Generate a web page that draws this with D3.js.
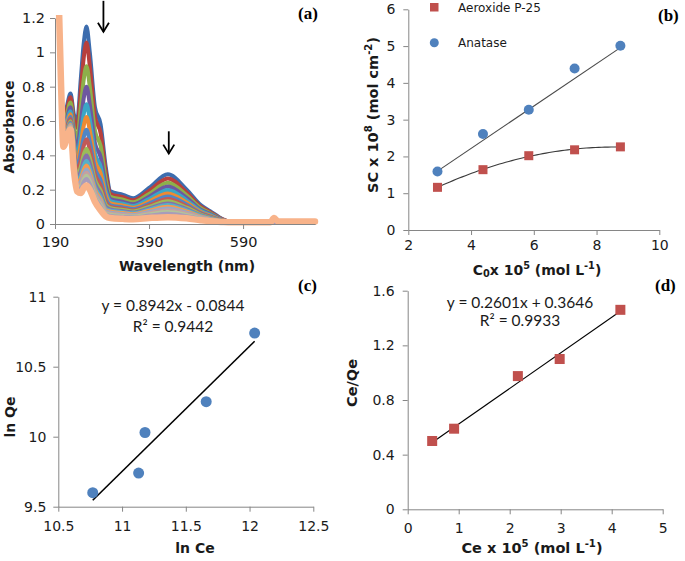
<!DOCTYPE html>
<html><head><meta charset="utf-8">
<script src="https://cdn.jsdelivr.net/npm/d3@7"></script>
<style>
body{margin:0;background:#fff;}
svg{display:block;}
</style></head><body>
<svg id="fig" width="685" height="561"></svg>
<script>
// ---------- Panel (a): UV-vis spectra ----------
const wavelengths = [190,198,203,208,215,223,230,237,245,251,257,264,275,287,298,308,335,356,390,430,470,500,520,545,565,648,656,664,743];
// one row per wavelength: 16 spectra + final spectrum (thick, light orange)
const absorbance = [
 [1.8,1.8,1.8,1.8,1.8,1.8,1.8,1.8,1.8,1.8,1.8,1.8,1.8,1.8,1.8,1.8,1.8],
 [1.3,1.3,1.3,1.3,1.3,1.3,1.3,1.3,1.3,1.3,1.3,1.3,1.3,1.3,1.3,1.3,1.3],
 [0.85,0.85,0.85,0.85,0.85,0.85,0.85,0.85,0.85,0.85,0.85,0.85,0.85,0.85,0.85,0.85,0.80],
 [0.60,0.585,0.563,0.543,0.527,0.515,0.503,0.494,0.485,0.479,0.473,0.469,0.465,0.462,0.459,0.456,0.45],
 [0.68,0.662,0.635,0.612,0.592,0.577,0.563,0.552,0.541,0.534,0.528,0.523,0.518,0.514,0.511,0.507,0.50],
 [0.76,0.739,0.708,0.680,0.657,0.640,0.624,0.611,0.598,0.590,0.583,0.576,0.571,0.567,0.563,0.558,0.55],
 [0.64,0.608,0.56,0.518,0.483,0.458,0.432,0.413,0.394,0.381,0.370,0.36,0.352,0.346,0.339,0.333,0.32],
 [0.60,0.559,0.498,0.444,0.399,0.366,0.334,0.309,0.284,0.268,0.254,0.241,0.231,0.223,0.215,0.206,0.19],
 [0.85,0.783,0.683,0.595,0.522,0.468,0.415,0.374,0.334,0.307,0.284,0.264,0.247,0.234,0.220,0.207,0.18],
 [1.05,0.966,0.84,0.731,0.638,0.571,0.504,0.454,0.403,0.37,0.34,0.315,0.294,0.277,0.26,0.244,0.21],
 [1.15,1.058,0.919,0.799,0.697,0.623,0.549,0.493,0.438,0.401,0.368,0.341,0.318,0.299,0.281,0.262,0.225],
 [1.0,0.92,0.80,0.696,0.608,0.544,0.48,0.432,0.384,0.352,0.324,0.30,0.28,0.264,0.248,0.232,0.20],
 [0.68,0.625,0.543,0.471,0.411,0.367,0.323,0.29,0.257,0.235,0.215,0.199,0.185,0.174,0.163,0.152,0.13],
 [0.58,0.53,0.455,0.39,0.335,0.295,0.255,0.225,0.195,0.175,0.158,0.143,0.13,0.12,0.11,0.10,0.08],
 [0.33,0.302,0.259,0.222,0.19,0.168,0.145,0.128,0.111,0.099,0.089,0.081,0.074,0.068,0.062,0.056,0.045],
 [0.19,0.175,0.159,0.145,0.133,0.12,0.109,0.1,0.092,0.085,0.078,0.072,0.066,0.06,0.054,0.047,0.035],
 [0.17,0.156,0.142,0.129,0.118,0.107,0.097,0.089,0.082,0.075,0.069,0.064,0.058,0.052,0.047,0.041,0.03],
 [0.15,0.138,0.126,0.115,0.105,0.095,0.087,0.079,0.073,0.067,0.062,0.057,0.052,0.048,0.043,0.038,0.028],
 [0.21,0.193,0.175,0.159,0.145,0.131,0.119,0.109,0.1,0.091,0.084,0.077,0.07,0.063,0.056,0.049,0.035],
 [0.29,0.265,0.24,0.218,0.198,0.178,0.16,0.145,0.133,0.12,0.11,0.10,0.09,0.08,0.07,0.06,0.04],
 [0.20,0.183,0.167,0.152,0.138,0.125,0.113,0.103,0.095,0.086,0.08,0.073,0.066,0.06,0.053,0.046,0.033],
 [0.11,0.101,0.092,0.084,0.077,0.070,0.064,0.059,0.055,0.05,0.047,0.043,0.04,0.036,0.033,0.029,0.022],
 [0.075,0.069,0.063,0.058,0.053,0.048,0.044,0.041,0.038,0.035,0.033,0.03,0.028,0.025,0.023,0.021,0.016],
 [0.03,0.028,0.026,0.025,0.023,0.022,0.021,0.02,0.019,0.018,0.017,0.016,0.016,0.015,0.014,0.013,0.012],
 [0.012,0.012,0.012,0.012,0.012,0.012,0.012,0.012,0.012,0.012,0.012,0.012,0.012,0.012,0.012,0.012,0.01],
 [0.01,0.01,0.01,0.01,0.01,0.01,0.01,0.01,0.01,0.01,0.01,0.01,0.01,0.01,0.01,0.01,0.01],
 [0.012,0.012,0.012,0.012,0.012,0.012,0.012,0.012,0.012,0.012,0.012,0.012,0.012,0.012,0.012,0.012,0.035],
 [0.01,0.01,0.01,0.01,0.01,0.01,0.01,0.01,0.01,0.01,0.01,0.01,0.01,0.01,0.01,0.01,0.016],
 [0.01,0.01,0.01,0.01,0.01,0.01,0.01,0.01,0.01,0.01,0.01,0.01,0.01,0.01,0.01,0.01,0.015]
];
const spectrumColors = ["#3D6DAE","#B8403D","#8DB04A","#6E58A0","#3AA6C6","#EE8A32",
  "#4F86C6","#C25A57","#9BBB59","#8670AA","#55B0C9","#F59A50",
  "#95A8C8","#C6A0A0","#B2C49A","#A89CBA","#F8B38A"];
const wlTicks = [190, 390, 590];
const absTicks = [0, 0.2, 0.4, 0.6, 0.8, 1, 1.2];
// arrows: [wavelength, top absorbance, bottom absorbance]
const arrowsA = [[293, 1.30, 1.12], [432, 0.54, 0.41]];

// ---------- Panel (b) ----------
const c0 = [2.93, 4.38, 5.84, 7.30, 8.76];
const scAeroxide = [1.16, 1.64, 2.02, 2.18, 2.26];
const scAnatase = [1.59, 2.61, 3.27, 4.39, 5.01];
const anataseTrend = [0.576, -0.088]; // slope, intercept
const bXTicks = [2, 4, 6, 8, 10];
const bYTicks = [0, 1, 2, 3, 4, 5, 6];
const bLegend = ["Aeroxide P-25", "Anatase"];

// ---------- Panel (c) ----------
const lnCe = [10.77, 11.13, 11.18, 11.66, 12.04];
const lnQe = [9.60, 9.74, 10.03, 10.25, 10.74];
const cTrend = [0.8942, -0.0844];
const cXTicks = [10.5, 11, 11.5, 12, 12.5];
const cYTicks = [9.5, 10, 10.5, 11];
const cEquation = ["y = 0.8942x - 0.0844", "R² = 0.9442"];

// ---------- Panel (d) ----------
const ceVals = [0.48, 0.91, 2.16, 2.98, 4.17];
const ceQe = [0.50, 0.59, 0.975, 1.10, 1.46];
const dTrend = [0.2601, 0.3646];
const dXTicks = [0, 1, 2, 3, 4, 5];
const dYTicks = [0, 0.4, 0.8, 1.2, 1.6];
const dEquation = ["y = 0.2601x + 0.3646", "R² = 0.9933"];

// ================= drawing =================
const svg = d3.select("#fig");
const AX = "#868686", TXT = "#1a1a1a";
const TICKFONT = "DejaVu Sans", BOLD = "DejaVu Sans";
const fmt = d => String(+d.toFixed(2));

function styleAxis(g, fs) {
  g.select(".domain").attr("stroke", AX).attr("stroke-width", 1);
  g.selectAll(".tick line").attr("stroke", AX);
  g.selectAll(".tick text").attr("fill", TXT).attr("font-family", TICKFONT).attr("font-size", fs);
}
function axes(x, y, xt, yt, fs, pad) {
  const gx = svg.append("g").attr("transform", `translate(0,${y.range()[0]})`)
    .call(d3.axisBottom(x).tickValues(xt).tickFormat(fmt).tickSize(5).tickSizeOuter(0).tickPadding(pad.x));
  styleAxis(gx, fs);
  const gy = svg.append("g").attr("transform", `translate(${x.range()[0]},0)`)
    .call(d3.axisLeft(y).tickValues(yt).tickFormat(fmt).tickSize(5).tickSizeOuter(0).tickPadding(pad.y));
  styleAxis(gy, fs);
  return [gx, gy];
}
function title(x, y, txtParts, rot, fs) {
  const t = svg.append("text").attr("font-family", BOLD).attr("font-weight", "bold")
    .attr("font-size", fs).attr("fill", TXT).attr("text-anchor", "middle")
    .attr("transform", `translate(${x},${y})` + (rot ? " rotate(-90)" : ""))
    .attr("dominant-baseline", "central");
  txtParts.forEach(p => {
    const s = t.append("tspan").text(p[0]);
    if (p[1] === "sup") s.attr("font-size", fs * 0.7).attr("dy", -5);
    if (p[1] === "sub") s.attr("font-size", fs * 0.7).attr("dy", 3);
    if (p[2]) s.attr("dy", p[2]);
  });
  return t;
}
function panelLabel(x, y, s) {
  svg.append("text").attr("x", x).attr("y", y).attr("font-family", "Liberation Serif")
    .attr("font-weight", "bold").attr("font-size", 17).attr("fill", "#000").text(s);
}

// ---- (a)
const xA = d3.scaleLinear().domain([190, 743]).range([55, 315]);
const yA = d3.scaleLinear().domain([0, 1.2]).range([224, 18]);
svg.append("clipPath").attr("id", "clipA").append("rect").attr("x", 54).attr("y", 15).attr("width", 265).attr("height", 220);
const gA = svg.append("g").attr("clip-path", "url(#clipA)");
const nSpec = spectrumColors.length;
const lineA = d3.line().x(d => xA(d[0])).y(d => yA(d[1])).curve(d3.curveMonotoneX);
for (let s = 0; s < nSpec; s++) {
  const pts = wavelengths.map((w, i) => [w, absorbance[i][s]]);
  gA.append("path").attr("d", lineA(pts)).attr("fill", "none")
    .attr("stroke", spectrumColors[s]).attr("stroke-width", s === nSpec - 1 ? 6.5 : 4)
    .attr("stroke-linejoin", "round").attr("stroke-linecap", "round");
}
axes(xA, yA, wlTicks, absTicks, 14.5, {x: 8, y: 5});
arrowsA.forEach(a => {
  const x = xA(a[0]), y1 = yA(a[1]), y2 = yA(a[2]);
  svg.append("line").attr("x1", x).attr("x2", x).attr("y1", y1).attr("y2", y2).attr("stroke", "#000").attr("stroke-width", 1.8);
  svg.append("path").attr("d", `M${x - 5.5},${y2 - 9} L${x},${y2} L${x + 5.5},${y2 - 9}`)
    .attr("fill", "none").attr("stroke", "#000").attr("stroke-width", 1.8);
});
title(9, 127, [["Absorbance"]], true, 14);
title(187, 266, [["Wavelength (nm)"]], false, 14);
panelLabel(298, 19, "(a)");

// ---- (b)
const xB = d3.scaleLinear().domain([2, 10]).range([408.3, 659.3]);
const yB = d3.scaleLinear().domain([0, 6]).range([230, 9.3]);
axes(xB, yB, bXTicks, bYTicks, 14, {x: 5, y: 8});
// quadratic least squares fit for Aeroxide
function quadFit(xs, ys) {
  let S = [0,0,0,0,0], T = [0,0,0];
  xs.forEach((x, i) => { for (let k = 0; k < 5; k++) S[k] += x ** k; for (let k = 0; k < 3; k++) T[k] += ys[i] * x ** k; });
  const M = [[S[0],S[1],S[2],T[0]],[S[1],S[2],S[3],T[1]],[S[2],S[3],S[4],T[2]]];
  for (let i = 0; i < 3; i++) { for (let j = i + 1; j < 3; j++) { const f = M[j][i] / M[i][i]; for (let k = i; k < 4; k++) M[j][k] -= f * M[i][k]; } }
  const c = [0,0,0];
  for (let i = 2; i >= 0; i--) { let s = M[i][3]; for (let k = i + 1; k < 3; k++) s -= M[i][k] * c[k]; c[i] = s / M[i][i]; }
  return x => c[0] + c[1] * x + c[2] * x * x;
}
const qf = quadFit(c0, scAeroxide);
const xsFit = d3.range(60).map(i => c0[0] + (c0[4] - c0[0]) * i / 59);
svg.append("path").attr("d", d3.line().x(d => xB(d)).y(d => yB(qf(d)))(xsFit))
  .attr("fill", "none").attr("stroke", "#3a3a3a").attr("stroke-width", 1.1);
svg.append("line").attr("x1", xB(c0[0])).attr("y1", yB(anataseTrend[0] * c0[0] + anataseTrend[1]))
  .attr("x2", xB(c0[4])).attr("y2", yB(anataseTrend[0] * c0[4] + anataseTrend[1]))
  .attr("stroke", "#4a4a4a").attr("stroke-width", 1.1);
svg.append("g").selectAll("rect").data(c0).join("rect")
  .attr("x", (d) => xB(d) - 4.5).attr("y", (d, i) => yB(scAeroxide[i]) - 4.5)
  .attr("width", 9).attr("height", 9).attr("fill", "#C0504D");
svg.append("g").selectAll("circle").data(c0).join("circle")
  .attr("cx", d => xB(d)).attr("cy", (d, i) => yB(scAnatase[i])).attr("r", 5).attr("fill", "#4F81BD");
// legend
svg.append("rect").attr("x", 430).attr("y", 3).attr("width", 8.5).attr("height", 8.5).attr("fill", "#C0504D");
svg.append("circle").attr("cx", 434.3).attr("cy", 42.7).attr("r", 4.5).attr("fill", "#4F81BD");
bLegend.forEach((t, i) => svg.append("text").attr("x", 458).attr("y", [7.5, 43][i]).attr("dominant-baseline", "central")
  .attr("font-family", TICKFONT).attr("font-size", 12).attr("fill", TXT).text(t));
title(373, 115, [["SC x 10"], ["8", "sup"], [" (mol cm", null, 5], ["-2", "sup"], [")", null, 5]], true, 14.5);
title(537, 270, [["C"], ["0", "sub"], ["x 10", null, -3], ["5", "sup"], [" (mol L", null, 5], ["-1", "sup"], [")", null, 5]], false, 14);
panelLabel(658, 21, "(b)");

// ---- (c)
const xC = d3.scaleLinear().domain([10.5, 12.5]).range([58.3, 313.3]);
const yC = d3.scaleLinear().domain([9.5, 11]).range([506.7, 296.7]);
axes(xC, yC, cXTicks, cYTicks, 14, {x: 9, y: 7});
svg.append("line").attr("x1", xC(lnCe[0])).attr("y1", yC(cTrend[0] * lnCe[0] + cTrend[1]))
  .attr("x2", xC(lnCe[4])).attr("y2", yC(cTrend[0] * lnCe[4] + cTrend[1]))
  .attr("stroke", "#000").attr("stroke-width", 1.6);
svg.append("g").selectAll("circle").data(lnCe).join("circle")
  .attr("cx", d => xC(d)).attr("cy", (d, i) => yC(lnQe[i])).attr("r", 5.5).attr("fill", "#4F81BD");
cEquation.forEach((t, i) => svg.append("text").attr("x", 173).attr("y", [305, 326][i]).attr("text-anchor", "middle")
  .attr("dominant-baseline", "central").attr("font-family", "Lato").attr("font-size", 15.5).attr("fill", TXT).text(t));
title(10, 417, [["ln Qe"]], true, 14);
title(195, 548, [["ln Ce"]], false, 14);
panelLabel(298, 291, "(c)");

// ---- (d)
const xD = d3.scaleLinear().domain([0, 5]).range([407.7, 662.7]);
const yD = d3.scaleLinear().domain([0, 1.6]).range([509.3, 290.7]);
axes(xD, yD, dXTicks, dYTicks, 14, {x: 9, y: 8});
svg.append("line").attr("x1", xD(ceVals[0])).attr("y1", yD(dTrend[0] * ceVals[0] + dTrend[1]))
  .attr("x2", xD(ceVals[4])).attr("y2", yD(dTrend[0] * ceVals[4] + dTrend[1]))
  .attr("stroke", "#000").attr("stroke-width", 1.1);
svg.append("g").selectAll("rect").data(ceVals).join("rect")
  .attr("x", d => xD(d) - 5).attr("y", (d, i) => yD(ceQe[i]) - 5)
  .attr("width", 10).attr("height", 10).attr("fill", "#C0504D");
dEquation.forEach((t, i) => svg.append("text").attr("x", 520).attr("y", [301.5, 320][i]).attr("text-anchor", "middle")
  .attr("dominant-baseline", "central").attr("font-family", "Lato").attr("font-size", 15.5).attr("fill", TXT).text(t));
title(352, 383, [["Ce/Qe"]], true, 14.5);
title(532, 548, [["Ce x 10"], ["5", "sup"], [" (mol L", null, 5], ["-1", "sup"], [")", null, 5]], false, 14.5);
panelLabel(655, 291, "(d)");
</script>
</body></html>
